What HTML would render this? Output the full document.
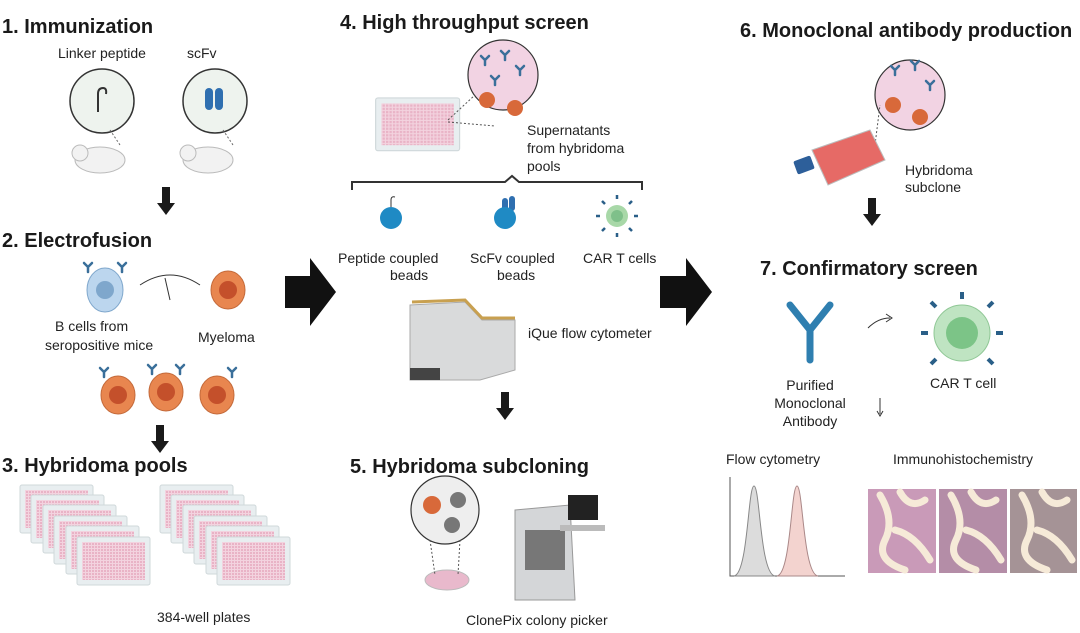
<!DOCTYPE html>
<html><head><meta charset="utf-8"><style>
body{margin:0;background:#fff;}
svg{display:block;font-family:"Liberation Sans",sans-serif;}
.h{font-weight:bold;font-size:20px;fill:#1a1a1a;}
.t{font-size:14px;fill:#222;}
</style></head><body>
<svg width="1080" height="633" viewBox="0 0 1080 633" xmlns="http://www.w3.org/2000/svg">
<defs>
<pattern id="wells" width="3" height="3" patternUnits="userSpaceOnUse"><rect width="3" height="3" fill="#f3d3df"/><rect width="2" height="2" fill="#e9b3c6"/></pattern>
<g id="plate"><rect width="73" height="48" rx="2" fill="#e8eef0" stroke="#cfd8da"/><rect x="5" y="5" width="63" height="38" fill="url(#wells)"/></g>
<g id="ab" stroke="#3a6f9a" stroke-width="2.5" fill="none" stroke-linecap="round"><path d="M0 0 L0 -5 M0 -5 L-4 -9 M0 -5 L4 -9"/></g>
<g id="hyb"><ellipse cx="0" cy="0" rx="17" ry="19" fill="#e8864f" stroke="#c46a3a"/><circle cx="0" cy="0" r="9" fill="#c4502b"/></g>
<g id="downarr"><rect x="-4" y="0" width="8" height="18" fill="#1a1a1a"/><path d="M-9 16 L9 16 L0 28 Z" fill="#1a1a1a"/></g>
</defs>

<text x="2" y="33" class="h">1. Immunization</text>
<text x="58" y="58" class="t">Linker peptide</text>
<text x="187" y="58" class="t">scFv</text>
<circle cx="102" cy="101" r="32" fill="#eef3ee" stroke="#333" stroke-width="1.5"/>
<path d="M98 112 L98 94 Q98 88 103 88 Q107 88 106 94" fill="none" stroke="#333" stroke-width="2"/>
<circle cx="215" cy="101" r="32" fill="#eef3ee" stroke="#333" stroke-width="1.5"/>
<rect x="205" y="88" width="8" height="22" rx="4" fill="#2f6fb0"/><rect x="215" y="88" width="8" height="22" rx="4" fill="#2f6fb0"/>
<line x1="110" y1="130" x2="120" y2="145" stroke="#666" stroke-dasharray="2,2"/>
<line x1="223" y1="130" x2="233" y2="145" stroke="#666" stroke-dasharray="2,2"/>
<ellipse cx="100" cy="160" rx="25" ry="13" fill="#f2f2f2" stroke="#bbb"/>
<circle cx="80" cy="153" r="8" fill="#f2f2f2" stroke="#bbb"/>
<ellipse cx="208" cy="160" rx="25" ry="13" fill="#f2f2f2" stroke="#bbb"/>
<circle cx="188" cy="153" r="8" fill="#f2f2f2" stroke="#bbb"/>
<use href="#downarr" x="166" y="187"/>

<text x="2" y="247" class="h">2. Electrofusion</text>
<ellipse cx="105" cy="290" rx="18" ry="22" fill="#bcd6ee" stroke="#7fa7cc"/>
<circle cx="105" cy="290" r="9" fill="#7fa7cc"/>
<use href="#ab" x="88" y="272"/><use href="#ab" x="122" y="272"/>
<use href="#hyb" x="228" y="290"/>
<path d="M140 285 Q170 265 200 285" fill="none" stroke="#333"/>
<path d="M165 278 L170 300" stroke="#333"/>
<text x="55" y="331" class="t">B cells from</text>
<text x="45" y="350" class="t">seropositive mice</text>
<text x="198" y="342" class="t">Myeloma</text>
<use href="#hyb" x="118" y="395"/><use href="#hyb" x="166" y="392"/><use href="#hyb" x="217" y="395"/>
<use href="#ab" x="104" y="377"/><use href="#ab" x="152" y="374"/><use href="#ab" x="180" y="374"/><use href="#ab" x="232" y="377"/>
<use href="#downarr" x="160" y="425"/>

<text x="2" y="472" class="h">3. Hybridoma pools</text>
<use href="#plate" x="20" y="485"/><use href="#plate" x="31" y="495"/><use href="#plate" x="43" y="505"/><use href="#plate" x="54" y="516"/><use href="#plate" x="66" y="526"/><use href="#plate" x="77" y="537"/>
<use href="#plate" x="160" y="485"/><use href="#plate" x="171" y="495"/><use href="#plate" x="183" y="505"/><use href="#plate" x="194" y="516"/><use href="#plate" x="206" y="526"/><use href="#plate" x="217" y="537"/>
<text x="157" y="622" class="t">384-well plates</text>

<path d="M285 276 L310 276 L310 258 L336 292 L310 326 L310 308 L285 308 Z" fill="#111"/>
<path d="M660 276 L686 276 L686 258 L712 292 L686 326 L686 308 L660 308 Z" fill="#111"/>

<text x="340" y="29" class="h">4. High throughput screen</text>
<use href="#plate" x="380" y="98" transform="translate(-5 0) scale(1.15 1.1) translate(-49 -9)"/>
<circle cx="503" cy="75" r="35" fill="#f2d3e3" stroke="#333" stroke-width="1.2"/>
<use href="#ab" x="485" y="65"/><use href="#ab" x="505" y="60"/><use href="#ab" x="520" y="75"/><use href="#ab" x="495" y="85"/>
<circle cx="487" cy="100" r="8" fill="#d8693a"/><circle cx="515" cy="108" r="8" fill="#d8693a"/>
<line x1="448" y1="120" x2="475" y2="95" stroke="#555" stroke-dasharray="2,2"/>
<line x1="448" y1="122" x2="495" y2="126" stroke="#555" stroke-dasharray="2,2"/>
<text x="527" y="135" class="t">Supernatants</text>
<text x="527" y="153" class="t">from hybridoma</text>
<text x="527" y="171" class="t">pools</text>
<path d="M352 190 L352 182 L505 182 L512 176 L519 182 L642 182 L642 190" fill="none" stroke="#333" stroke-width="2"/>
<path d="M391 207 L391 200 Q391 196 395 197" fill="none" stroke="#333"/>
<circle cx="391" cy="218" r="11" fill="#1f8ac4"/>
<rect x="502" y="198" width="6" height="15" rx="3" fill="#2f6fb0"/><rect x="509" y="196" width="6" height="15" rx="3" fill="#2f6fb0"/>
<circle cx="505" cy="218" r="11" fill="#1f8ac4"/>
<circle cx="617" cy="216" r="11" fill="#a8d8a8"/><circle cx="617" cy="216" r="6" fill="#7fc08a"/>
<g stroke="#2a5f88" stroke-width="2.5"><path d="M600 216 h-4 M634 216 h4 M617 199 v-4 M617 233 v4 M605 204 l-3 -3 M629 204 l3 -3 M605 228 l-3 3 M629 228 l3 3"/></g>
<text x="338" y="263" class="t">Peptide coupled</text>
<text x="390" y="280" class="t">beads</text>
<text x="470" y="263" class="t">ScFv coupled</text>
<text x="497" y="280" class="t">beads</text>
<text x="583" y="263" class="t">CAR T cells</text>
<path d="M410 305 L465 302 L482 320 L515 320 L515 370 L480 380 L410 380 Z" fill="#d9dadb" stroke="#aaa"/>
<path d="M412 302 L465 300 L482 318 L515 318" fill="none" stroke="#c8a050" stroke-width="3"/>
<rect x="410" y="368" width="30" height="12" fill="#444"/>
<text x="528" y="338" class="t">iQue flow cytometer</text>
<use href="#downarr" x="505" y="392"/>

<text x="350" y="473" class="h">5. Hybridoma subcloning</text>
<circle cx="445" cy="510" r="34" fill="#eee" stroke="#333" stroke-width="1.2"/>
<circle cx="432" cy="505" r="9" fill="#d8693a"/><circle cx="458" cy="500" r="8" fill="#777"/><circle cx="452" cy="525" r="8" fill="#777"/>
<ellipse cx="447" cy="580" rx="22" ry="10" fill="#e9b9cc" stroke="#bbb"/>
<line x1="430" y1="540" x2="435" y2="575" stroke="#555" stroke-dasharray="2,2"/>
<line x1="460" y1="540" x2="458" y2="575" stroke="#555" stroke-dasharray="2,2"/>
<path d="M515 510 L570 505 L575 600 L515 600 Z" fill="#d4d6d8" stroke="#999"/>
<rect x="525" y="530" width="40" height="40" fill="#777"/>
<rect x="568" y="495" width="30" height="25" fill="#222"/>
<rect x="560" y="525" width="45" height="6" fill="#bbb"/>
<text x="466" y="625" class="t">ClonePix colony picker</text>

<text x="740" y="37" class="h">6. Monoclonal antibody production</text>
<circle cx="910" cy="95" r="35" fill="#f2d3e3" stroke="#333" stroke-width="1.2"/>
<use href="#ab" x="895" y="75"/><use href="#ab" x="915" y="70"/><use href="#ab" x="930" y="90"/>
<circle cx="893" cy="105" r="8" fill="#d8693a"/><circle cx="920" cy="117" r="8" fill="#d8693a"/>
<line x1="875" y1="145" x2="880" y2="105" stroke="#555" stroke-dasharray="2,2"/>
<path d="M812 150 L870 130 L885 160 L828 185 Z" fill="#e66a66" stroke="#bbb"/>
<rect x="795" y="158" width="18" height="14" rx="2" fill="#2d5f9a" transform="rotate(-20 804 165)"/>
<text x="905" y="175" class="t">Hybridoma</text>
<text x="905" y="192" class="t">subclone</text>
<use href="#downarr" x="872" y="198"/>

<text x="760" y="275" class="h">7. Confirmatory screen</text>
<g stroke="#2f7fb0" stroke-width="7" fill="none" stroke-linecap="round"><path d="M810 360 L810 330 M810 330 L790 305 M810 330 L830 305"/></g>
<path d="M868 328 Q878 318 890 318" fill="none" stroke="#333"/><path d="M886 314 L892 318 L886 322" fill="none" stroke="#333"/>
<circle cx="962" cy="333" r="28" fill="#bfe4c2" stroke="#8fc795"/><circle cx="962" cy="333" r="16" fill="#7cc487"/>
<g stroke="#2a5f88" stroke-width="4"><path d="M928 333 h-7 M996 333 h7 M962 299 v-7 M936 307 l-5 -5 M988 307 l5 -5 M936 359 l-5 5 M988 359 l5 5"/></g>
<text x="810" y="390" class="t" text-anchor="middle">Purified</text>
<text x="810" y="408" class="t" text-anchor="middle">Monoclonal</text>
<text x="810" y="426" class="t" text-anchor="middle">Antibody</text>
<text x="930" y="388" class="t">CAR T cell</text>
<path d="M880 398 L880 414" stroke="#333"/><path d="M877 411 L880 416 L883 411" fill="none" stroke="#333"/>
<text x="726" y="464" class="t">Flow cytometry</text>
<text x="893" y="464" class="t">Immunohistochemistry</text>
<path d="M730 477 L730 576 L845 576" fill="none" stroke="#555"/>
<path d="M734 576 C748 574 748 486 754 486 C760 486 760 574 775 576 Z" fill="#dcdcdc" stroke="#888"/>
<path d="M777 576 C791 574 791 486 797 486 C803 486 803 574 818 576 Z" fill="#f3d3cf" stroke="#a88"/>
<rect x="868" y="489" width="68" height="84" fill="#c99ab8"/>
<rect x="939" y="489" width="68" height="84" fill="#b48da7"/>
<rect x="1010" y="489" width="67" height="84" fill="#a59396"/>
<g fill="none" stroke="#f6ead8" stroke-width="7" stroke-linecap="round">
<path d="M880 495 Q895 520 885 540 Q875 560 905 570 M900 492 Q910 510 925 500 M895 530 Q915 535 930 560"/>
<path d="M951 495 Q966 520 956 540 Q946 560 976 570 M971 492 Q981 510 996 500 M966 530 Q986 535 1001 560"/>
<path d="M1022 495 Q1037 520 1027 540 Q1017 560 1047 570 M1042 492 Q1052 510 1067 500 M1037 530 Q1057 535 1072 560"/>
</g>
</svg>
</body></html>
